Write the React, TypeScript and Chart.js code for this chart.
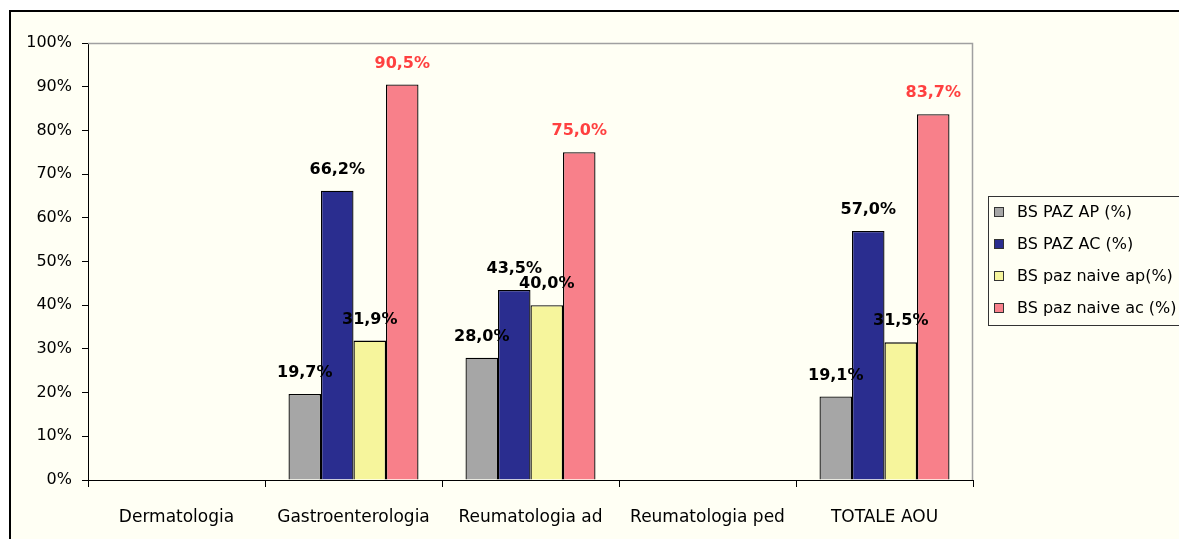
import React, { useEffect, useRef } from "react";
import { Chart, registerables } from "chart.js";

Chart.register(...registerables);

const categories = ["Dermatologia", "Gastroenterologia", "Reumatologia ad", "Reumatologia ped", "TOTALE AOU"];
const seriesLabels = ["BS PAZ AP (%)", "BS PAZ AC (%)", "BS paz naive ap(%)", "BS paz naive ac (%)"];
const pazAP = [null, 19.7, 28.0, null, 19.1];
const pazAC = [null, 66.2, 43.5, null, 57.0];
const naiveAP = [null, 31.9, 40.0, null, 31.5];
const naiveAC = [null, 90.5, 75.0, null, 83.7];
const seriesColors = ["#A6A6A6", "#2A2D8F", "#F6F59C", "#F8808A"];
const labelColors = ["#000000", "#000000", "#000000", "#FF4040"];
const yTicks = [0, 10, 20, 30, 40, 50, 60, 70, 80, 90, 100];

const CREAM = "#FFFFF4";
const FONT = "'DejaVu Sans', Verdana, sans-serif";

const framePlugin = {
  id: "frame",
  beforeDraw(chart: any) {
    const { ctx, width, height } = chart;
    ctx.save();
    ctx.fillStyle = "#FFFFFF";
    ctx.fillRect(0, 0, width, height);
    ctx.fillStyle = CREAM;
    ctx.fillRect(11, 12, width - 11, height - 12);
    ctx.fillStyle = "#000000";
    ctx.fillRect(9, 10, 2, height - 10);
    ctx.fillRect(9, 10, width - 9, 2);
    ctx.restore();
  },
  beforeDatasetsDraw(chart: any) {
    const { ctx, chartArea } = chart;
    ctx.save();
    ctx.strokeStyle = "#A0A0A0";
    ctx.lineWidth = 1.5;
    ctx.beginPath();
    ctx.moveTo(chartArea.left, chartArea.top + 0.5);
    ctx.lineTo(chartArea.right - 0.5, chartArea.top + 0.5);
    ctx.lineTo(chartArea.right - 0.5, chartArea.bottom);
    ctx.stroke();
    ctx.restore();
  },
};

const valueLabelPlugin = {
  id: "valueLabels",
  afterDatasetsDraw(chart: any) {
    const { ctx } = chart;
    ctx.save();
    ctx.font = `bold 16px ${FONT}`;
    ctx.textAlign = "center";
    ctx.textBaseline = "alphabetic";
    chart.data.datasets.forEach((ds: any, di: number) => {
      const meta = chart.getDatasetMeta(di);
      meta.data.forEach((el: any, i: number) => {
        const v = ds.data[i];
        if (v === null || v === undefined) return;
        ctx.fillStyle = labelColors[di];
        ctx.fillText(v.toFixed(1).replace(".", ",") + "%", el.x, el.y - 17);
      });
    });
    ctx.restore();
  },
};

const legendPlugin = {
  id: "customLegend",
  afterDraw(chart: any) {
    const { ctx } = chart;
    ctx.save();
    ctx.strokeStyle = "#333333";
    ctx.lineWidth = 1;
    ctx.strokeRect(988.5, 196.5, 260, 129);
    ctx.font = `16px ${FONT}`;
    ctx.textBaseline = "middle";
    ctx.textAlign = "left";
    chart.data.datasets.forEach((ds: any, di: number) => {
      const cy = 212 + di * 32;
      ctx.fillStyle = ds.backgroundColor;
      ctx.fillRect(994.5, cy - 4.5, 9, 9);
      ctx.strokeStyle = "#333333";
      ctx.strokeRect(994.5, cy - 4.5, 9, 9);
      ctx.fillStyle = "#000000";
      ctx.fillText(ds.label, 1017, cy + 1);
    });
    ctx.restore();
  },
};

export default function App() {
  const ref = useRef<HTMLCanvasElement | null>(null);
  useEffect(() => {
    if (!ref.current) return;
    const values = [pazAP, pazAC, naiveAP, naiveAC];
    const chart = new Chart(ref.current, {
      type: "bar",
      data: {
        labels: categories,
        datasets: values.map((d, i) => ({
          label: seriesLabels[i],
          data: d as any,
          backgroundColor: seriesColors[i],
          borderColor: "#000000",
          borderWidth: 1.3,
          categoryPercentage: 0.7345,
          barPercentage: 1.0,
        })),
      },
      options: {
        responsive: false,
        animation: false,
        devicePixelRatio: 1,
        layout: { padding: { left: 0, top: 43, right: 206, bottom: 0 } },
        plugins: {
          legend: { display: false },
          tooltip: { enabled: false },
          title: { display: false },
        },
        scales: {
          x: {
            offset: true,
            grid: {
              offset: true,
              drawOnChartArea: false,
              drawTicks: true,
              tickLength: 7,
              tickColor: "#000000",
            },
            border: { color: "#000000", width: 1 },
            ticks: {
              color: "#000000",
              font: { family: FONT, size: 17 },
              padding: 20,
              maxRotation: 0,
              autoSkip: false,
            },
            afterFit: (s: any) => {
              s.height = 59;
            },
          },
          y: {
            min: 0,
            max: 100,
            afterBuildTicks: (s: any) => {
              s.ticks = yTicks.map((v) => ({ value: v }));
            },
            grid: {
              drawOnChartArea: false,
              drawTicks: true,
              tickLength: 6,
              tickColor: "#000000",
            },
            border: { color: "#000000", width: 1 },
            ticks: {
              color: "#000000",
              font: { family: FONT, size: 16 },
              padding: 10,
              callback: (v: any) => v + "%",
            },
            afterFit: (s: any) => {
              s.width = 88;
            },
          },
        },
      },
      plugins: [framePlugin, valueLabelPlugin, legendPlugin],
    });
    return () => chart.destroy();
  }, []);
  return (
    <div style={{ position: "fixed", left: 0, top: 0, width: 1179, height: 539, overflow: "hidden" }}>
      <canvas ref={ref} width={1179} height={539} style={{ display: "block", width: 1179, height: 539 }} />
    </div>
  );
}
